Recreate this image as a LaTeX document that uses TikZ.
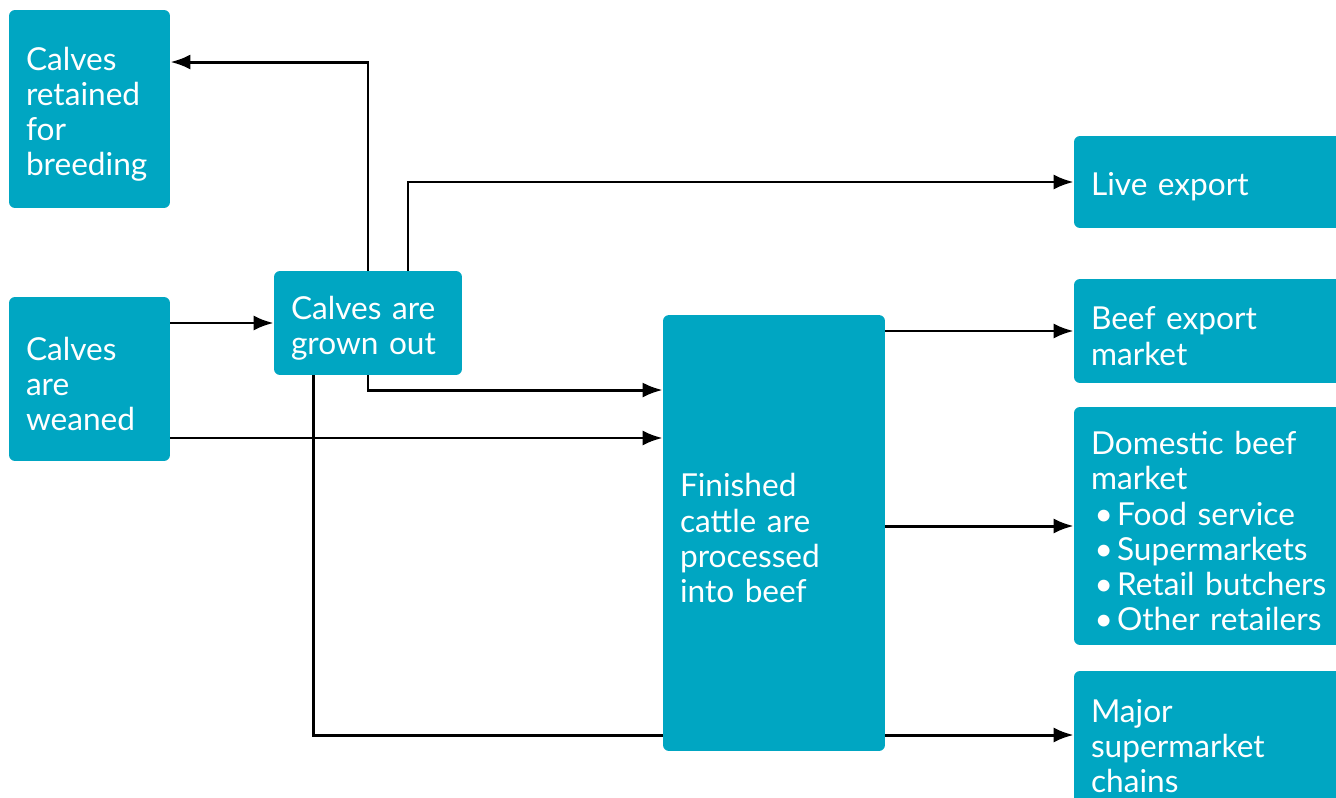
\documentclass[tikz,border=0pt]{standalone}
\usepackage{fontspec}
\setmainfont{Lato}
\usepackage{xcolor}
\usetikzlibrary{arrows.meta,calc,positioning}
\definecolor{boxblue}{RGB}{0,166,194}
\newcommand{\bul}{\makebox[0.52cm][l]{\hspace{0.07cm}•}}

\begin{document}
\begin{tikzpicture}[x=0.02cm, y=-0.02cm, >={Latex[length=4mm,width=3mm]},
  box/.style={fill=boxblue, rounded corners=0.12cm, text=white, align=left,
    inner xsep=0.34cm, inner ysep=0pt, font=\fontsize{18pt}{20pt}\selectfont,
    execute at begin node={\rule{0pt}{19pt}}},
  link/.style={line width=1.7pt, black}]
  \clip (0,0) rectangle (1336,798);
  % left column
  \node[box, text width=2.54cm, minimum height=3.96cm] (breed) at (89.5,109) {Calves\\retained\\for\\breeding};
  \node[box, text width=2.54cm, minimum height=3.28cm] (wean) at (89.5,379) {Calves\\are\\weaned};
  \node[box, text width=3.08cm, minimum height=2.08cm] (grown) at (368,323) {Calves are\\grown out};
  \node[box, text width=3.76cm, minimum height=8.72cm] (fin) at (774,533) {Finished\\cattle are\\processed\\into beef};
  % markets
  \node[box, text width=5.24cm, minimum height=1.84cm] (live) at (1222,182) {Live export};
  \node[box, text width=5.24cm, minimum height=2.08cm] (bexp) at (1222,331) {Beef export\\market};
  \node[box, text width=5.24cm, minimum height=4.76cm] (dom) at (1222,526) {Domestic beef\\market\\
    \bul Food service\\\bul Supermarkets\\\bul Retail butchers\\\bul Other retailers};
  \node[box, text width=5.24cm, minimum height=2.8cm, execute at begin node={\rule{0pt}{13pt}}] (major) at (1222,741) {Major\\supermarket\\chains};
  % connectors
  \draw[link,->] (wean.east |- grown.west) -- (grown.west);
  \draw[link,->] (grown.north) |- ([yshift=0.94cm]breed.east);
  \draw[link,->] ([xshift=0.8cm]grown.north) |- (live.west);
  \draw[link,->] (grown.south) |- ([yshift=2.86cm]fin.west);
  \draw[link,->] ([yshift=-1.18cm]wean.east) -- ([yshift=-1.18cm]wean.east -| fin.west);
  \draw[link] ([xshift=-1.1cm]grown.south) |- ([yshift=0.12cm]fin.west |- major.west);
  \draw[link,->] ([yshift=0.12cm]fin.east |- major.west) -- ([yshift=0.12cm]major.west);
  \draw[link,->] (fin.east |- bexp.west) -- (bexp.west);
  \draw[link,->] (fin.east |- dom.west) -- (dom.west);
\end{tikzpicture}
\end{document}
